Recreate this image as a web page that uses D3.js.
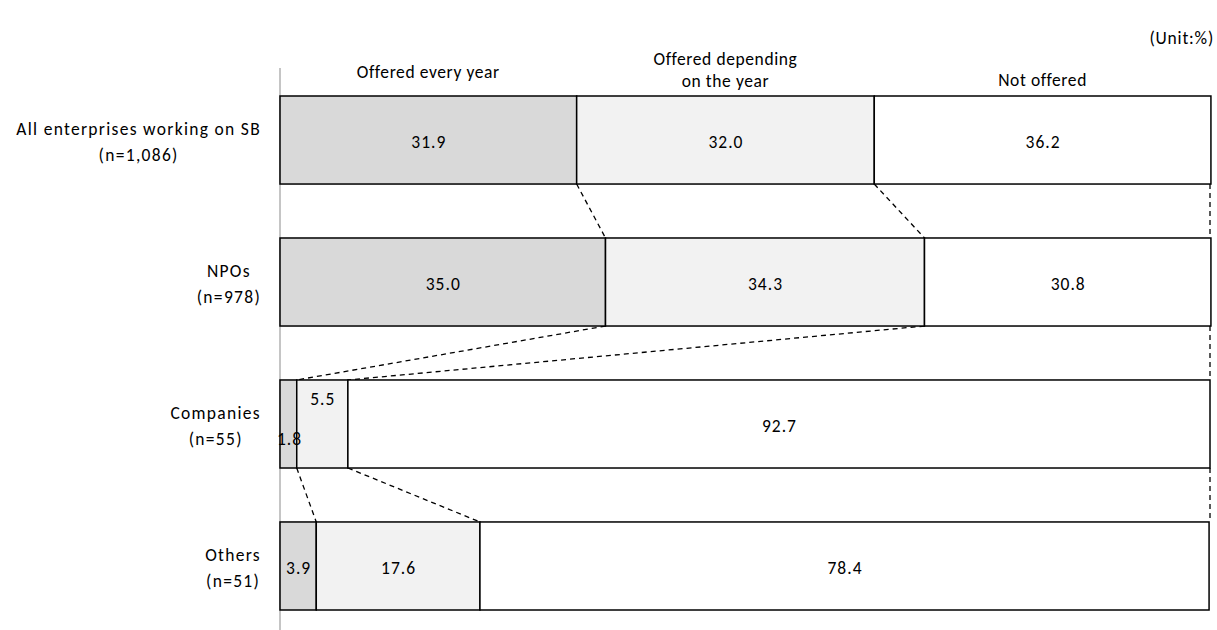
<!DOCTYPE html>
<html>
<head>
<meta charset="utf-8">
<script src="https://cdn.jsdelivr.net/npm/d3@7"></script>
<style>
  html, body { margin: 0; padding: 0; background: #fff; }
  svg { display: block; font-family: Carlito, Lato, "Open Sans", sans-serif; }
</style>
</head>
<body>
<svg id="chart" width="1217" height="630"></svg>
<script>
// Share of enterprises by whether the item is offered (unit: %)
const categories = [
  ["All enterprises working on SB", "(n=1,086)"],
  ["NPOs", "(n=978)"],
  ["Companies", "(n=55)"],
  ["Others", "(n=51)"]
];
const seriesNames = [["Offered every year"], ["Offered depending", "on the year"], ["Not offered"]];
const offeredEveryYear = [31.9, 35.0, 1.8, 3.9];
const offeredDependingOnYear = [32.0, 34.3, 5.5, 17.6];
const notOffered = [36.2, 30.8, 92.7, 78.4];
const unitLabel = "(Unit:%)";

const fills = ["#d9d9d9", "#f2f2f2", "#ffffff"];
const FONT = 17.5;

const svg = d3.select("#chart");
const left = 280, right = 1210;

const rows = categories.map((c, i) => ({
  key: c.join(" "),
  lines: c,
  values: [offeredEveryYear[i], offeredDependingOnYear[i], notOffered[i]]
}));

const x = d3.scaleLinear().domain([0, 100]).range([left, right]);
const y = d3.scaleBand().domain(rows.map(r => r.key)).range([96, 610]).paddingInner(0.38).paddingOuter(0);

// stacked segments
rows.forEach(r => {
  let acc = 0;
  r.segments = r.values.map((v, j) => {
    const s = { x0: acc, x1: acc + v, v, j };
    acc += v;
    return s;
  });
});

// vertical axis line
svg.append("line")
  .attr("x1", left).attr("x2", left)
  .attr("y1", 68).attr("y2", 630)
  .attr("stroke", "#a6a6a6").attr("stroke-width", 1.3);

// dashed connectors between consecutive bars
const conn = svg.append("g")
  .attr("stroke", "#000").attr("stroke-width", 1.3)
  .attr("stroke-dasharray", "5,4").attr("fill", "none");
for (let i = 0; i < rows.length - 1; i++) {
  const a = rows[i], b = rows[i + 1];
  const ya = y(a.key) + y.bandwidth();
  const yb = y(b.key);
  a.segments.forEach((s, j) => {
    const xa = j === 2 ? 100 : s.x1;
    const xb = j === 2 ? 100 : b.segments[j].x1;
    conn.append("line")
      .attr("x1", x(xa)).attr("y1", ya)
      .attr("x2", x(xb)).attr("y2", yb);
  });
}

// bars
const barG = svg.append("g");
rows.forEach(r => {
  barG.selectAll(null)
    .data(r.segments)
    .enter().append("rect")
    .attr("x", d => x(d.x0))
    .attr("y", y(r.key))
    .attr("width", d => x(d.x1) - x(d.x0))
    .attr("height", y.bandwidth())
    .attr("fill", d => fills[d.j])
    .attr("stroke", "#000")
    .attr("stroke-width", 1.5);
});

// value labels
const valG = svg.append("g")
  .attr("font-size", FONT).attr("fill", "#000").attr("letter-spacing", "1px");
rows.forEach((r, i) => {
  r.segments.forEach(s => {
    let cx = x((s.x0 + s.x1) / 2);
    let by = y(r.key) + y.bandwidth() / 2 + 8;
    // narrow segments in the Companies row: labels nudged to stay readable
    if (i === 2 && s.j === 0) { cx = x(s.x0) + 9; by = y(r.key) + 65; }
    if (i === 2 && s.j === 1) { by = y(r.key) + 25; }
    valG.append("text")
      .attr("x", cx + 0.5).attr("y", by)
      .attr("text-anchor", "middle")
      .text(s.v.toFixed(1));
  });
});

// column headers over the first bar
const first = rows[0];
const hdrBaselines = [[78], [65, 87], [86]];
const hdrG = svg.append("g")
  .attr("font-size", FONT).attr("fill", "#000").attr("letter-spacing", "0.6px");
first.segments.forEach((s, j) => {
  const cx = x((s.x0 + s.x1) / 2);
  seriesNames[j].forEach((t, k) => {
    hdrG.append("text")
      .attr("x", cx)
      .attr("y", hdrBaselines[j][k])
      .attr("text-anchor", "middle")
      .text(t);
  });
});

// category labels: each line centred, block aligned against the axis
const catG = svg.append("g")
  .attr("font-size", FONT).attr("fill", "#000").attr("letter-spacing", "1.3px");
rows.forEach(r => {
  const g = catG.append("g");
  const cy = y(r.key) + y.bandwidth() / 2 + 2;
  const texts = r.lines.map((t, k) =>
    g.append("text")
      .attr("y", cy + (k - (r.lines.length - 1) / 2) * 26 + 6)
      .attr("text-anchor", "middle")
      .text(t));
  const w = d3.max(texts, t => t.node().getComputedTextLength());
  const cx = 261 - w / 2;
  texts.forEach(t => t.attr("x", cx));
});

// unit note
svg.append("text")
  .attr("x", 1214).attr("y", 44)
  .attr("text-anchor", "end")
  .attr("font-size", FONT)
  .attr("letter-spacing", "0.8px")
  .text(unitLabel);
</script>
</body>
</html>
